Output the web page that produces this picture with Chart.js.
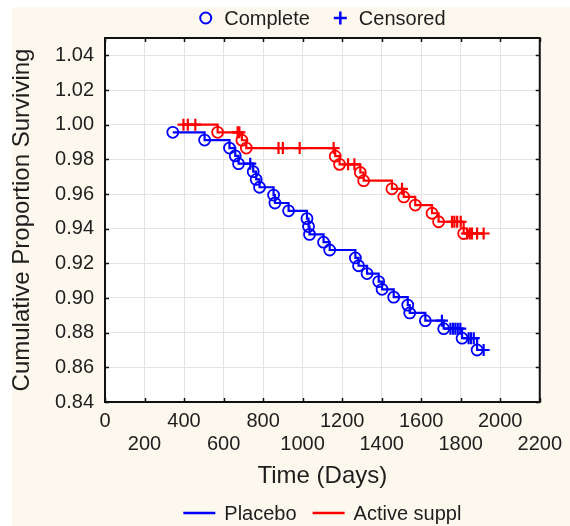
<!DOCTYPE html>
<html><head><meta charset="utf-8">
<script src="https://cdn.jsdelivr.net/npm/chart.js@4.4.1/dist/chart.umd.min.js"></script>
<style>html,body{margin:0;padding:0;background:#fff;}#wrap{width:570px;height:526px;}</style>
</head><body><div id="wrap"><canvas id="c" width="570" height="526"></canvas></div>
<script>
// ---- data ----
const xTicks = [0, 200, 400, 600, 800, 1000, 1200, 1400, 1600, 1800, 2000, 2200];
const yTicks = [0.84, 0.86, 0.88, 0.90, 0.92, 0.94, 0.96, 0.98, 1.00, 1.02, 1.04];
const seriesNames = ['Placebo', 'Active suppl'];
const markerNames = ['Complete', 'Censored'];

const placeboEventDays = [343, 504, 630, 659, 676, 750, 765, 782, 853, 860, 929, 1022, 1030, 1035, 1106, 1137, 1267, 1283, 1326, 1385, 1402, 1461, 1532, 1542, 1621, 1714, 1807, 1883];
const placeboEventSurv = [0.9956, 0.9911, 0.9865, 0.9820, 0.9775, 0.9729, 0.9684, 0.9639, 0.9594, 0.9548, 0.9503, 0.9458, 0.9412, 0.9367, 0.9322, 0.9277, 0.9231, 0.9186, 0.9141, 0.9095, 0.9050, 0.9005, 0.8959, 0.8914, 0.8869, 0.8823, 0.8768, 0.8700];
const placeboCensorDays = [735, 1705, 1748, 1761, 1773, 1785, 1798, 1840, 1852, 1866, 1916];

const activeEventDays = [570, 693, 715, 1165, 1187, 1292, 1309, 1452, 1512, 1570, 1655, 1688, 1815];
const activeEventSurv = [0.9956, 0.9910, 0.9865, 0.9818, 0.9771, 0.9724, 0.9677, 0.9630, 0.9583, 0.9536, 0.9489, 0.9440, 0.9372];
const activeCensorDays = [397, 419, 457, 671, 680, 878, 900, 985, 1157, 1230, 1262, 1503, 1756, 1768, 1782, 1800, 1832, 1846, 1857, 1883, 1916];

// ---- styles ----
const BLUE = '#0000ff', RED = '#ff0000', TEXT = '#1e1e1e';
const FONT = '"Liberation Sans", Arial, Helvetica, sans-serif';

function levelAt(days, surv, t) {
  let s = 1;
  for (let i = 0; i < days.length; i++) if (days[i] <= t) s = surv[i];
  return s;
}
function eventPts(days, surv) { return days.map((d, i) => ({x: d, y: surv[i]})); }
function censorPts(cdays, days, surv) { return cdays.map(d => ({x: d, y: levelAt(days, surv, d)})); }
function stepPts(days, surv, cdays) {
  return eventPts(days, surv).concat(censorPts(cdays, days, surv)).sort((a, b) => a.x - b.x);
}

const circleSet = (data, color) => ({data, showLine: false, pointStyle: 'circle', pointRadius: 5.5, pointBorderWidth: 1.8, pointBorderColor: color, borderColor: color, pointBackgroundColor: 'rgba(0,0,0,0)', backgroundColor: 'rgba(0,0,0,0)'});
const crossSet = (data, color) => ({data, showLine: false, pointStyle: 'cross', pointRadius: 6, pointBorderWidth: 2.2, pointBorderColor: color, borderColor: color});
const lineSet = (label, data, color) => ({label, data, showLine: true, stepped: 'before', borderColor: color, borderWidth: 2.2, pointRadius: 0, fill: false});

const bgPlugin = {
  id: 'bg',
  beforeDraw(chart) {
    const {ctx, chartArea: a, width, height} = chart;
    ctx.save();
    ctx.fillStyle = '#ffffff'; ctx.fillRect(0, 0, width, height);
    ctx.fillStyle = '#fdf8ed'; ctx.fillRect(12, 7, width - 12, height - 7);
    ctx.fillStyle = '#ffffff'; ctx.fillRect(a.left, a.top, a.right - a.left, a.bottom - a.top);
    ctx.restore();
  }
};

const framePlugin = {
  id: 'frame',
  afterDraw(chart) {
    const {ctx, chartArea: a} = chart;
    const x = chart.scales.x, y = chart.scales.y;
    ctx.save();
    ctx.strokeStyle = '#111'; ctx.lineWidth = 2;
    ctx.strokeRect(a.left, a.top, a.right - a.left, a.bottom - a.top);
    ctx.lineWidth = 1.5;
    const L = 4;
    ctx.beginPath();
    xTicks.forEach(v => { const p = Math.round(x.getPixelForValue(v)) + 0.5;
      ctx.moveTo(p, a.bottom); ctx.lineTo(p, a.bottom - L);
      ctx.moveTo(p, a.top); ctx.lineTo(p, a.top + L); });
    yTicks.forEach(v => { const p = Math.round(y.getPixelForValue(v)) + 0.5;
      ctx.moveTo(a.left, p); ctx.lineTo(a.left + L, p);
      ctx.moveTo(a.right, p); ctx.lineTo(a.right - L, p); });
    ctx.stroke();
    ctx.restore();
  }
};

const legendPlugin = {
  id: 'kmLegends',
  afterDraw(chart) {
    const {ctx, chartArea: a} = chart;
    const cx = (a.left + a.right) / 2;
    ctx.save();
    ctx.font = '20px ' + FONT;
    ctx.textBaseline = 'middle';
    ctx.textAlign = 'left';
    function drawRow(items, yy, symW, gap, itemGap) {
      const widths = items.map(it => symW + gap + ctx.measureText(it.text).width);
      const total = widths.reduce((s, w) => s + w, 0) + itemGap * (items.length - 1);
      let xx = cx - total / 2;
      items.forEach((it, i) => {
        ctx.strokeStyle = it.color; ctx.lineWidth = 2;
        ctx.beginPath();
        if (it.kind === 'circle') {
          ctx.arc(xx + symW / 2, yy, symW / 2 - 1, 0, Math.PI * 2);
        } else if (it.kind === 'cross') {
          ctx.lineWidth = 2.5;
          ctx.moveTo(xx, yy); ctx.lineTo(xx + symW, yy);
          ctx.moveTo(xx + symW / 2, yy - symW / 2); ctx.lineTo(xx + symW / 2, yy + symW / 2);
        } else {
          ctx.lineWidth = 2.5;
          ctx.moveTo(xx, yy); ctx.lineTo(xx + symW, yy);
        }
        ctx.stroke();
        ctx.fillStyle = TEXT;
        ctx.fillText(it.text, xx + symW + gap, yy + 1);
        xx += widths[i] + itemGap;
      });
    }
    drawRow([{kind: 'circle', color: BLUE, text: markerNames[0]}, {kind: 'cross', color: BLUE, text: markerNames[1]}], 18, 13, 12, 24);
    const ds = chart.data.datasets.filter(d => d.label);
    drawRow(ds.map(d => ({kind: 'line', color: d.borderColor, text: d.label})), 513, 32, 9, 16);
    ctx.restore();
  }
};

new Chart(document.getElementById('c'), {
  type: 'scatter',
  data: {
    datasets: [
      circleSet(eventPts(placeboEventDays, placeboEventSurv), BLUE),
      crossSet(censorPts(placeboCensorDays, placeboEventDays, placeboEventSurv), BLUE),
      circleSet(eventPts(activeEventDays, activeEventSurv), RED),
      crossSet(censorPts(activeCensorDays, activeEventDays, activeEventSurv), RED),
      lineSet(seriesNames[0], stepPts(placeboEventDays, placeboEventSurv, placeboCensorDays), BLUE),
      lineSet(seriesNames[1], stepPts(activeEventDays, activeEventSurv, activeCensorDays), RED)
    ]
  },
  options: {
    responsive: false,
    devicePixelRatio: 1,
    animation: false,
    events: [],
    layout: {padding: {left: 0, top: 38, right: 30, bottom: 34}},
    plugins: {legend: {display: false}, tooltip: {enabled: false}},
    scales: {
      x: {
        type: 'linear', min: 0, max: 2200, bounds: 'data',
        afterBuildTicks: s => { s.ticks = xTicks.map(v => ({value: v})); },
        afterFit: s => { s.height = 90; },
        grid: {color: '#e3e3e3', drawTicks: false, lineWidth: 1},
        border: {display: false},
        ticks: {
          autoSkip: false, maxRotation: 0, minRotation: 0, padding: 8, color: TEXT,
          font: {family: FONT, size: 20, lineHeight: 1.165},
          callback: (v, i) => (i % 2 === 0 ? [String(xTicks[i]), ''] : ['', String(xTicks[i])])
        },
        title: {display: true, text: 'Time (Days)', color: TEXT, font: {family: FONT, size: 24}, padding: {top: 0, bottom: 1}}
      },
      y: {
        type: 'linear', min: 0.84, max: 1.05, bounds: 'data',
        afterBuildTicks: s => { s.ticks = yTicks.map(v => ({value: v})); },
        afterFit: s => { s.width = 105; },
        grid: {color: '#e3e3e3', drawTicks: false, lineWidth: 1},
        border: {display: false},
        ticks: {padding: 11, color: TEXT, font: {family: FONT, size: 20},
          callback: (v) => Number(v).toFixed(2)},
        title: {display: true, text: 'Cumulative Proportion Surviving', color: TEXT, font: {family: FONT, size: 24}, padding: {top: 8, bottom: 0}}
      }
    }
  },
  plugins: [bgPlugin, framePlugin, legendPlugin]
});
</script></body></html>
